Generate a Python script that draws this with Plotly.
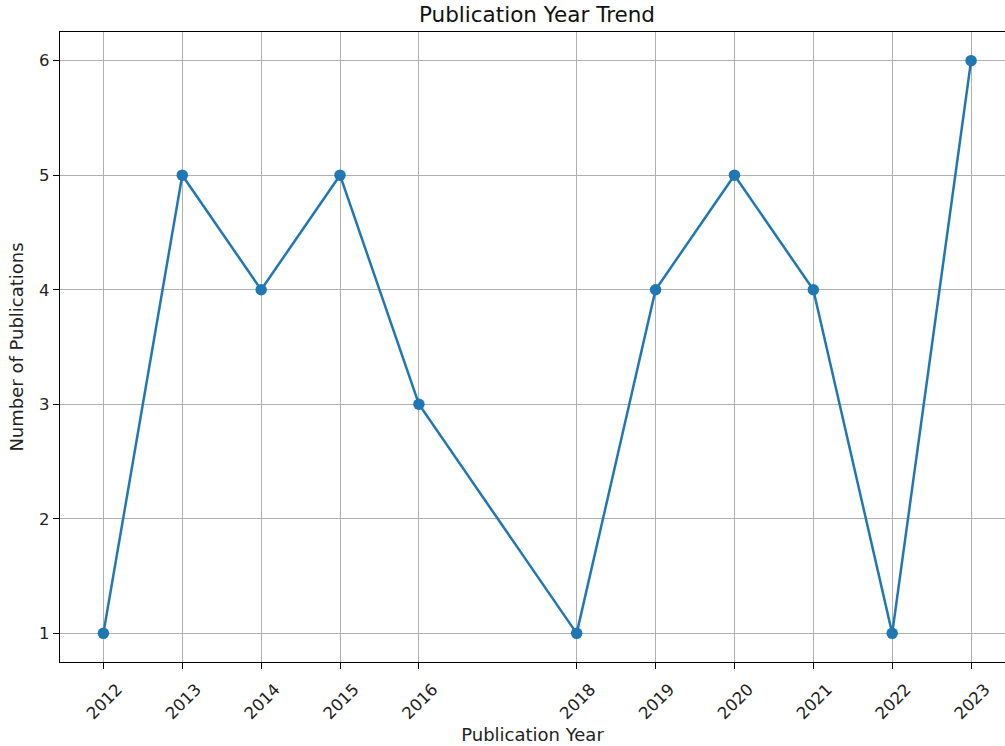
import plotly.graph_objects as go

years = [2012, 2013, 2014, 2015, 2016, 2018, 2019, 2020, 2021, 2022, 2023]
counts = [1, 5, 4, 5, 3, 1, 4, 5, 4, 1, 6]
year_labels = [str(y) for y in years]
y_ticks = [1, 2, 3, 4, 5, 6]

fig = go.Figure()
fig.add_trace(go.Scatter(
    x=years, y=counts, mode="lines+markers",
    line=dict(color="#1f77b4", width=2.5),
    marker=dict(color="#1f77b4", size=11.5),
    showlegend=False,
))

fig.update_layout(
    width=1005, height=746,
    margin=dict(l=60, r=0, t=32, b=84),
    plot_bgcolor="white", paper_bgcolor="white",
    font=dict(family="DejaVu Sans", size=16.5, color="#222"),
    title=dict(text="Publication Year Trend", x=(60 + 1014) / 2 / 1005, xanchor="center",
               y=1 - 14 / 746, yanchor="middle", font=dict(size=21.5, color="#111")),
)
fig.update_xaxes(
    range=[2011.45, 2023.43],
    tickvals=years, ticktext=year_labels, tickangle=-45,
    ticklabelshift=14, ticklabelstandoff=4,
    showgrid=True, gridcolor="#b0b0b0", gridwidth=1.4,
    showline=True, linecolor="black", linewidth=1.4, mirror=True,
    ticks="outside", ticklen=6, tickcolor="black", tickwidth=1.4,
    zeroline=False,
    title=dict(text="Publication Year", font=dict(size=18), standoff=6),
)
fig.update_yaxes(
    range=[0.75, 6.25],
    tickvals=y_ticks,
    showgrid=True, gridcolor="#b0b0b0", gridwidth=1.4,
    showline=True, linecolor="black", linewidth=1.4,
    ticks="outside", ticklen=6, tickcolor="black", tickwidth=1.4,
    zeroline=False,
    title=dict(text="Number of Publications", font=dict(size=18), standoff=10),
)

fig.write_html("out.html", config={"displayModeBar": False},
               post_script="document.body.style.margin='0';")
